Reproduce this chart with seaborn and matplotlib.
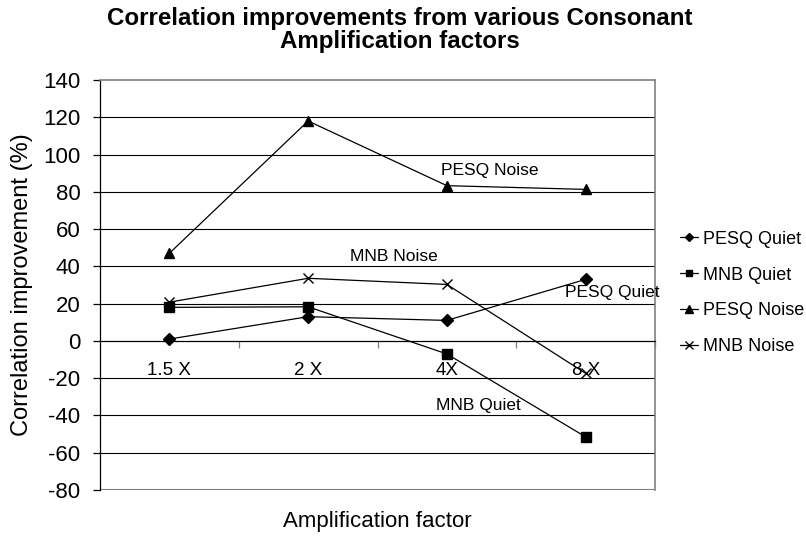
import matplotlib
matplotlib.use("Agg")
import matplotlib.pyplot as plt
import seaborn as sns
import pandas as pd

# values
factors = ["1.5 X", "2 X", "4X", "8 X"]
series = ["PESQ Quiet", "MNB Quiet", "PESQ Noise", "MNB Noise"]
pesq_quiet = [1, 13, 11, 33]
mnb_quiet = [18, 18.3, -7, -51.5]
pesq_noise = [47, 118, 83.3, 81.3]
mnb_noise = [20.8, 33.6, 30.3, -17.4]
y_ticks = list(range(-80, 141, 20))

# in-plot labels: (text, category position, value)
annotations = [
    ("PESQ Noise", 2.31, 91.5),
    ("MNB Noise", 1.62, 45.5),
    ("PESQ Quiet", 3.19, 26.2),
    ("MNB Quiet", 2.23, -34.5),
]

rows = []
for name, vals in zip(series, [pesq_quiet, mnb_quiet, pesq_noise, mnb_noise]):
    for i, v in enumerate(vals):
        rows.append({"series": name, "pos": i, "value": v})
df = pd.DataFrame(rows)

sns.set_style("white")
plt.rcParams["font.family"] = ["Liberation Sans", "DejaVu Sans"]
plt.rcParams["axes.unicode_minus"] = False
plt.rcParams["text.color"] = "black"
plt.rcParams["axes.labelcolor"] = "black"
plt.rcParams["xtick.color"] = "black"
plt.rcParams["ytick.color"] = "black"

fig = plt.figure(figsize=(8.06, 5.48), dpi=100)
ax = fig.add_axes([100 / 806, 1 - 490 / 548, 555 / 806, 410 / 548])

markers = {"PESQ Quiet": "D", "MNB Quiet": "s", "PESQ Noise": "^", "MNB Noise": "x"}
sizes = {"PESQ Quiet": 6, "MNB Quiet": 6.5, "PESQ Noise": 7.5, "MNB Noise": 7}
for name in series:
    sns.lineplot(
        data=df[df["series"] == name], x="pos", y="value", color="black",
        marker=markers[name], markersize=sizes[name], linewidth=0.9,
        markeredgecolor="black", markerfacecolor="black", markeredgewidth=1,
        label=name, ax=ax,
    )

handles, labels = ax.get_legend_handles_labels()
ax.get_legend().remove()
fig.legend(
    handles, labels, loc="center left",
    bbox_to_anchor=(680 / 806, 1 - 293 / 548), frameon=False,
    borderpad=0, borderaxespad=0,
    fontsize=13, handlelength=1.0, handletextpad=0.28, labelspacing=1.05,
    markerscale=0.75,
)

ax.set_xlim(-0.5, 3.5)
ax.set_ylim(-80, 140)
ax.set_yticks(y_ticks)
ax.tick_params(axis="y", labelsize=16, length=5, width=0.9, direction="out",
               left=True, color="black", pad=9)

# gridlines (black) inside, grey plot-area border
for y in y_ticks[1:-1]:
    if y != 0:
        ax.axhline(y, color="black", linewidth=0.8, zorder=0)
ax.axhline(-80, color="#808080", linewidth=1.5, zorder=0)
for side in ["top", "right"]:
    ax.spines[side].set_color("#808080")
    ax.spines[side].set_linewidth(1.2)
ax.spines["left"].set_color("black")
ax.spines["left"].set_linewidth(0.9)

# category axis crosses at 0
ax.spines["bottom"].set_position(("data", 0))
ax.spines["bottom"].set_color("black")
ax.spines["bottom"].set_linewidth(0.9)
ax.set_xticks([0.5, 1.5, 2.5, 3.5])
ax.set_xticklabels([])
ax.set_xticks(range(len(factors)), minor=True)
ax.set_xticklabels(factors, minor=True)
ax.tick_params(axis="x", which="major", length=5, width=0.9, direction="out",
               bottom=True, color="#808080")
ax.tick_params(axis="x", which="minor", length=0, labelsize=13.5, pad=15.5)

for text, x, y in annotations:
    ax.text(x, y, text, ha="center", va="center", fontsize=12.5)

ax.set_xlabel("Amplification factor", fontsize=16)
ax.xaxis.set_label_coords(0.5, (490 - 521) / 410)
ax.xaxis.label.set_va("center")
ax.set_ylabel("Correlation improvement (%)", fontsize=17)
ax.yaxis.set_label_coords((22 - 100) / 555, 0.5)
ax.yaxis.label.set_va("center")

fig.text(400 / 806, 1 - 30 / 548,
         "Correlation improvements from various Consonant\nAmplification factors",
         ha="center", va="center", fontsize=17.4, fontweight="bold", linespacing=1.0)

fig.savefig("out.png", dpi=100)
